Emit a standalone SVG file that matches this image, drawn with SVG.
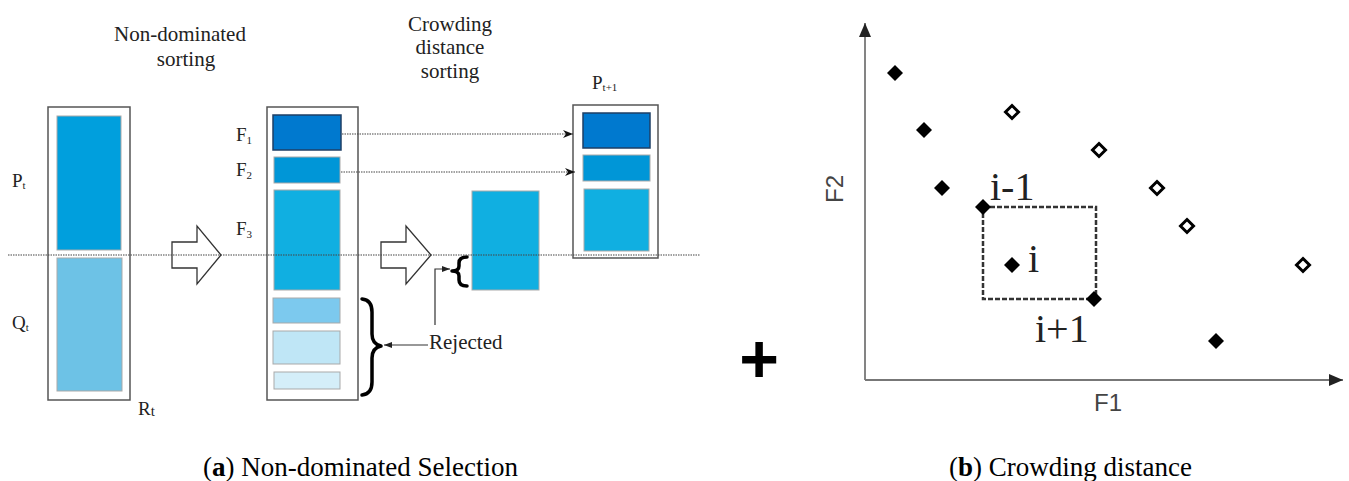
<svg xmlns="http://www.w3.org/2000/svg" width="1349" height="481" viewBox="0 0 1349 481">
<style>
.lbl{font-family:"Liberation Serif","DejaVu Serif",serif;fill:#222}
.sans{font-family:"Liberation Sans","DejaVu Sans",sans-serif;fill:#444}
.box{fill:#fff;stroke:#555;stroke-width:1.5}
.cell{stroke:#a9a9a9;stroke-width:1}
.blk{fill:#fff;stroke:#333;stroke-width:1.3}
.dot{fill:none;stroke:#444;stroke-width:1.2;stroke-dasharray:1.5 1}
.thin{fill:none;stroke:#333;stroke-width:1.2}
.brace{fill:none;stroke:#000;stroke-width:3.5;stroke-linecap:round;stroke-linejoin:round}
.ax{fill:none;stroke:#777;stroke-width:1.8}
.fd{fill:#000}
.hd{fill:#fff;stroke:#000;stroke-width:3}
.cap{font-family:"Liberation Serif","DejaVu Serif",serif;fill:#000;font-size:27px}
</style>
<defs>
<marker id="ah" viewBox="0 0 10 8" refX="10" refY="4" markerWidth="10" markerHeight="8" markerUnits="userSpaceOnUse" orient="auto">
<path d="M0,0 L10,4 L0,8 L3,4 Z" fill="#111"/>
</marker>
<marker id="ahs" viewBox="0 0 8 6" refX="8" refY="3" markerWidth="8" markerHeight="6" markerUnits="userSpaceOnUse" orient="auto">
<path d="M0,0 L8,3 L0,6 Z" fill="#222"/>
</marker>
<marker id="axh" viewBox="0 0 14 12" refX="14" refY="6" markerWidth="14" markerHeight="12" markerUnits="userSpaceOnUse" orient="auto">
<path d="M0,0 L14,6 L0,12 Z" fill="#222"/>
</marker>
</defs>

<!-- Panel (a) titles -->
<g id="title-nds">
<text class="lbl" x="180" y="41" font-size="21" text-anchor="middle">Non-dominated</text>
<text class="lbl" x="186" y="66" font-size="21" text-anchor="middle">sorting</text>
</g>
<g id="title-cds">
<text class="lbl" x="450" y="31" font-size="21" text-anchor="middle">Crowding</text>
<text class="lbl" x="450" y="54" font-size="21" text-anchor="middle">distance</text>
<text class="lbl" x="450" y="78" font-size="21" text-anchor="middle">sorting</text>
</g>

<!-- R_t column -->
<g id="node-Rt">
<rect class="box" x="48" y="107" width="82" height="293"/>
<rect class="cell" x="57" y="116" width="64" height="134" fill="#009FDD"/>
<rect class="cell" x="57" y="258" width="65" height="133" fill="#6DC2E6"/>
<text class="lbl" x="12" y="187" font-size="19">P<tspan font-size="11" dy="2">t</tspan></text>
<text class="lbl" x="12" y="329" font-size="19">Q<tspan font-size="11" dy="2">t</tspan></text>
<text class="lbl" x="138" y="415" font-size="19">R<tspan font-size="15" dy="1">t</tspan></text>
</g>

<!-- block arrow 1 -->
<g id="arrow-nds">
<polygon class="blk" points="172,242 197,242 197,226 221,255 197,284 197,268 172,268"/>
</g>

<!-- Fronts column -->
<g id="node-fronts">
<rect class="box" x="267" y="107" width="91" height="293"/>
<rect x="273" y="115" width="68" height="35" fill="#0079CF" stroke="#1E3F66" stroke-width="1.5"/>
<rect class="cell" x="274" y="157" width="66" height="26" fill="#0096D7"/>
<rect class="cell" x="274" y="190" width="66" height="100" fill="#10AFE1"/>
<rect class="cell" x="273" y="298" width="67" height="25" fill="#7CC9EE"/>
<rect class="cell" x="273" y="331" width="67" height="33" fill="#BFE6F6"/>
<rect class="cell" x="274" y="372" width="66" height="17" fill="#D4EEF9"/>
<text class="lbl" x="236" y="141" font-size="19">F<tspan font-size="11" dy="3">1</tspan></text>
<text class="lbl" x="236" y="176" font-size="19">F<tspan font-size="11" dy="3">2</tspan></text>
<text class="lbl" x="236" y="235" font-size="19">F<tspan font-size="11" dy="3">3</tspan></text>
</g>

<!-- block arrow 2 -->
<g id="arrow-cds">
<polygon class="blk" points="381,242 406,242 406,226 431,255 406,284 406,268 381,268"/>
</g>

<!-- crowding sorted F3 -->
<g id="node-f3sorted">
<rect class="cell" x="472" y="191" width="67" height="99" fill="#10AFE1"/>
<path class="brace" d="M467,257 Q459,257 459,263 L459,266 Q459,271 452,271 Q459,271 459,276 L459,280 Q459,286 467,286"/>
</g>

<!-- P_{t+1} -->
<g id="node-Pt1">
<rect class="box" x="573" y="105" width="85" height="153"/>
<rect x="583" y="113" width="67" height="35" fill="#0079CF" stroke="#1E3F66" stroke-width="1.5"/>
<rect class="cell" x="583" y="155" width="67" height="26" fill="#0096D7"/>
<rect class="cell" x="584" y="189" width="65" height="62" fill="#10AFE1"/>
<text class="lbl" x="592" y="89" font-size="19">P<tspan font-size="11" dy="2">t+1</tspan></text>
</g>

<!-- Rejected -->
<g id="node-rejected">
<path class="brace" d="M362,299 Q372,300 372,312 L372,334 Q372,344 381,346 Q372,348 372,358 L372,382 Q372,394 362,395"/>
<text class="lbl" x="429" y="349" font-size="21">Rejected</text>
</g>

<!-- connectors (a) -->
<g id="connectors-a">
<line class="dot" x1="8" y1="255" x2="700" y2="255"/>
<line class="dot" x1="342" y1="134" x2="573" y2="134" marker-end="url(#ah)"/>
<line class="dot" x1="341" y1="172" x2="575" y2="172" marker-end="url(#ah)"/>
<line class="thin" x1="428" y1="345" x2="384" y2="345" marker-end="url(#ahs)"/>
<polyline class="thin" points="435,325 435,269 450,269" marker-end="url(#ahs)"/>
</g>

<!-- plus -->
<g id="plus">
<text x="759" y="382" font-family="Liberation Sans, Arial, sans-serif" font-weight="bold" font-size="68" text-anchor="middle" fill="#000">+</text>
</g>

<!-- Panel (b) -->
<g id="axes">
<line class="ax" x1="865" y1="380" x2="865" y2="23" marker-end="url(#axh)"/>
<line class="ax" x1="865" y1="380" x2="1343" y2="380" marker-end="url(#axh)"/>
<text class="sans" x="1108" y="411" font-size="24" text-anchor="middle">F1</text>
<text class="sans" x="843" y="189" font-size="24" text-anchor="middle" transform="rotate(-90 843 189)">F2</text>
</g>

<g id="cuboid">
<rect x="983" y="207" width="113" height="92" fill="none" stroke="#333" stroke-width="2.5" stroke-dasharray="5 2"/>
</g>

<g id="points-front">
<polygon class="fd" points="895,65 903,73 895,81 887,73"/>
<polygon class="fd" points="924,122 932,130 924,138 916,130"/>
<polygon class="fd" points="942,180 950,188 942,196 934,188"/>
<polygon class="fd" points="983,199 991,207 983,215 975,207"/>
<polygon class="fd" points="1012,257 1020,265 1012,273 1004,265"/>
<polygon class="fd" points="1094,291 1102,299 1094,307 1086,299"/>
<polygon class="fd" points="1216,333 1224,341 1216,349 1208,341"/>
</g>

<g id="points-other">
<polygon class="hd" points="1012,105.5 1018.5,112 1012,118.5 1005.5,112"/>
<polygon class="hd" points="1099,143.5 1105.5,150 1099,156.5 1092.5,150"/>
<polygon class="hd" points="1157,181.5 1163.5,188 1157,194.5 1150.5,188"/>
<polygon class="hd" points="1187,219.5 1193.5,226 1187,232.5 1180.5,226"/>
<polygon class="hd" points="1303,258.5 1309.5,265 1303,271.5 1296.5,265"/>
</g>

<g id="point-labels">
<text class="lbl" x="990" y="200" font-size="40" fill="#111">i-1</text>
<text class="lbl" x="1028" y="272" font-size="40" fill="#111">i</text>
<text class="lbl" x="1035" y="342" font-size="40" fill="#111">i+1</text>
</g>

<!-- captions -->
<g id="captions">
<text class="cap" x="203" y="476">(<tspan font-weight="bold">a</tspan>) Non-dominated Selection</text>
<text class="cap" x="949" y="476">(<tspan font-weight="bold">b</tspan>) Crowding distance</text>
</g>
</svg>
